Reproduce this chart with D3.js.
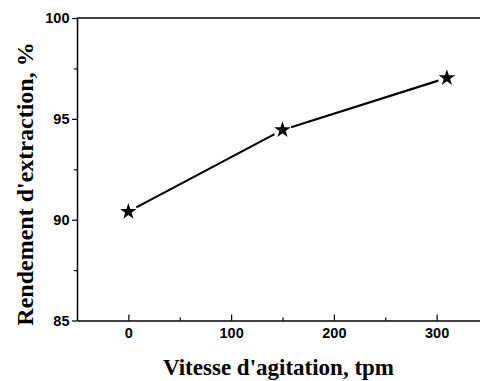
<!DOCTYPE html>
<html><head><meta charset="utf-8">
<script src="https://cdn.jsdelivr.net/npm/d3@7"></script>
<style>body{margin:0;background:#fff}svg{display:block}</style>
</head><body>
<script>
const speeds = [0, 150, 310];
const yields = [90.4, 94.45, 97.03];
const xTicks = [0, 100, 200, 300];
const yTicks = [85, 90, 95, 100];
const xTitle = "Vitesse d'agitation, tpm";
const yTitle = "Rendement d'extraction, %";

const W = 480, H = 381;
const svg = d3.select("body").append("svg").attr("width", W).attr("height", H);
const x = d3.scaleLinear().domain([-50, 350]).range([77, 488]);
const y = d3.scaleLinear().domain([85, 100]).range([320.5, 18]);

svg.append("line").attr("x1", 77).attr("x2", W).attr("y1", y(100)).attr("y2", y(100))
  .attr("stroke", "#000").attr("stroke-width", 1.5);

const xAxis = svg.append("g").attr("transform", `translate(0,${y(85)})`)
  .call(d3.axisBottom(x).tickValues(xTicks).tickSizeInner(-6).tickSizeOuter(0).tickPadding(7.5));
const xMinor = svg.append("g").attr("transform", `translate(0,${y(85)})`)
  .call(d3.axisBottom(x).tickValues([50,150,250]).tickSizeInner(-3).tickSizeOuter(0).tickFormat(""));
xMinor.select(".domain").remove();
const yAxis = svg.append("g").attr("transform", `translate(${x(-50)},0)`)
  .call(d3.axisLeft(y).tickValues(yTicks).tickSizeInner(5).tickSizeOuter(0).tickPadding(2.5));
const yMinor = svg.append("g").attr("transform", `translate(${x(-50)},0)`)
  .call(d3.axisLeft(y).tickValues([87.5,92.5,97.5]).tickSizeInner(3).tickSizeOuter(0).tickFormat(""));
yMinor.select(".domain").remove();
svg.selectAll(".domain").attr("stroke-width", 1.5);
svg.selectAll(".tick line").attr("stroke-width", 1.2);
svg.selectAll(".tick text").attr("font-family", "Liberation Sans, Arial, sans-serif")
  .attr("font-weight", "bold").attr("font-size", 14.5).attr("fill", "#000");
xAxis.selectAll(".tick text").attr("dy", "0.71em");

const pts = speeds.map((s, i) => [x(s), y(yields[i])]);
const gap = 9;
for (let i = 0; i < pts.length - 1; i++) {
  const [x1, y1] = pts[i], [x2, y2] = pts[i+1];
  const L = Math.hypot(x2 - x1, y2 - y1), ux = (x2 - x1)/L, uy = (y2 - y1)/L;
  svg.append("line").attr("x1", x1 + ux*gap).attr("y1", y1 + uy*gap)
    .attr("x2", x2 - ux*gap).attr("y2", y2 - uy*gap)
    .attr("stroke", "#000").attr("stroke-width", 2.2);
}
svg.selectAll(".pt").data(pts).enter().append("path")
  .attr("transform", d => `translate(${d[0]},${d[1]})`)
  .attr("d", d3.symbol().type(d3.symbolStar).size(85)).attr("fill", "#000");

svg.append("text").attr("x", (77 + W)/2).attr("y", 375).attr("text-anchor", "middle")
  .attr("font-family", "Liberation Serif, Times New Roman, serif").attr("font-weight", "bold")
  .attr("font-size", 23).text(xTitle);
svg.append("text").attr("transform", `translate(33,184) rotate(-90)`)
  .attr("text-anchor", "middle")
  .attr("font-family", "Liberation Serif, Times New Roman, serif").attr("font-weight", "bold")
  .attr("font-size", 24).text(yTitle);
</script>
</body></html>
